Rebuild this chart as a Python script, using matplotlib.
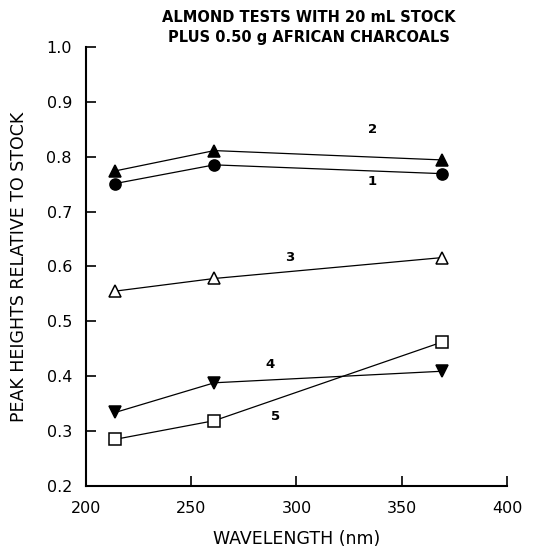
import matplotlib
matplotlib.use("Agg")
import matplotlib.pyplot as plt

# Data
wavelength = [214, 261, 369]
series_1 = [0.751, 0.785, 0.769]
series_2 = [0.774, 0.811, 0.794]
series_3 = [0.555, 0.578, 0.616]
series_4 = [0.334, 0.388, 0.409]
series_5 = [0.285, 0.319, 0.462]

curve_labels = ['1', '2', '3', '4', '5']
label_pos = [(336, 0.754), (336, 0.850), (297, 0.617), (287.5, 0.422), (290, 0.326)]

x_ticks = [200, 250, 300, 350, 400]
y_ticks = [0.2, 0.3, 0.4, 0.5, 0.6, 0.7, 0.8, 0.9, 1.0]

plt.rcParams['font.family'] = ['DejaVu Sans']

fig = plt.figure(figsize=(5.5, 5.51), dpi=100)
ax = fig.add_axes([0.156, 0.118, 0.766, 0.797])

styles = [
    (series_1, dict(marker='o', mfc='black', ms=8)),
    (series_2, dict(marker='^', mfc='black', ms=8)),
    (series_3, dict(marker='^', mfc='white', ms=8)),
    (series_4, dict(marker='v', mfc='black', ms=8)),
    (series_5, dict(marker='s', mfc='white', ms=8)),
]
for y, st in styles:
    ax.plot(wavelength, y, color='black', lw=0.9, mec='black', mew=1.1, **st)

for lab, (lx, ly) in zip(curve_labels, label_pos):
    ax.text(lx, ly, lab, fontsize=9.5, fontweight='bold', ha='center', va='center')

ax.set_xlim(200, 400)
ax.set_ylim(0.2, 1.0)
ax.set_xticks(x_ticks)
ax.set_yticks(y_ticks)
ax.set_yticklabels([f'{v:.1f}' for v in y_ticks])

ax.spines['top'].set_visible(False)
ax.spines['right'].set_visible(False)
for s in ['left', 'bottom']:
    ax.spines[s].set_linewidth(1.5)
ax.tick_params(direction='in', length=7, width=1.2, labelsize=11.5)
ax.tick_params(axis='x', pad=11)
ax.tick_params(axis='y', pad=10)

ax.set_xlabel('WAVELENGTH (nm)', fontsize=12.5, labelpad=10)
ax.set_ylabel('PEAK HEIGHTS RELATIVE TO STOCK', fontsize=12.5, labelpad=13)

fig.text(0.562, 0.969, 'ALMOND TESTS WITH 20 mL STOCK', ha='center', va='center',
         fontsize=10.5, fontweight='bold')
fig.text(0.562, 0.932, 'PLUS 0.50 g AFRICAN CHARCOALS', ha='center', va='center',
         fontsize=10.5, fontweight='bold')

fig.savefig('out.png', dpi=100)
